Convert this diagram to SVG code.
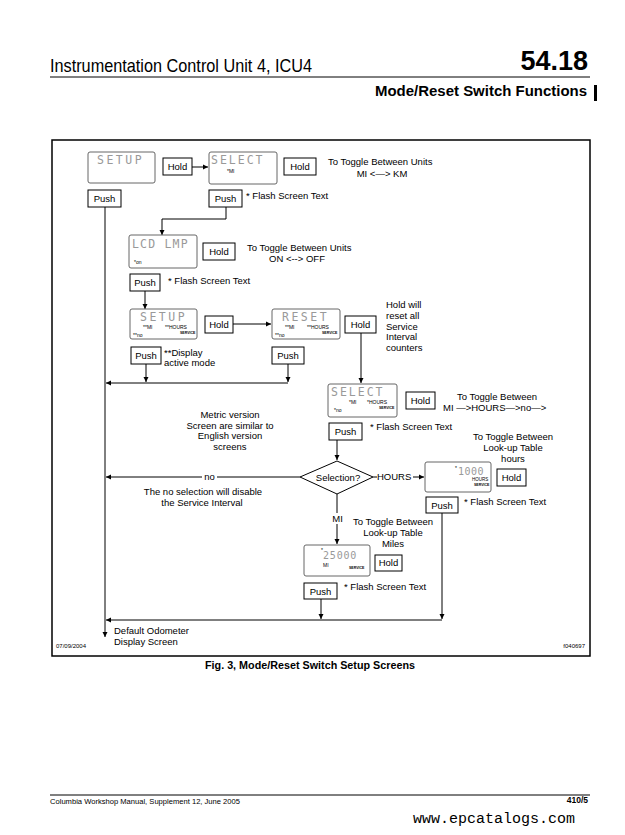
<svg xmlns="http://www.w3.org/2000/svg" width="625" height="835" viewBox="0 0 625 835">
<style>
.t{font-family:"Liberation Sans",Arial,sans-serif;font-size:9.5px;fill:#000}
.c{text-anchor:middle}
.b{font-weight:bold}
.box{fill:#fff;stroke:#000;stroke-width:1}
.lcd{fill:#fff;stroke:#666;stroke-width:1}
.seg{font-family:"DejaVu Sans Mono","Liberation Mono",monospace;font-size:11.5px;fill:#999;letter-spacing:2.5px}
.sm{font-family:"Liberation Sans",Arial,sans-serif;font-size:5px;fill:#000}
.xs{font-family:"Liberation Sans",Arial,sans-serif;font-size:3.5px;fill:#000;font-weight:bold}
.ln{fill:none;stroke:#000;stroke-width:1}
.ar{fill:none;stroke:#000;stroke-width:1;marker-end:url(#ah)}
</style>
<defs>
<marker id="ah" markerWidth="6" markerHeight="6" refX="5" refY="3" orient="auto" markerUnits="userSpaceOnUse">
<path d="M0,0.5 L5,3 L0,5.5 Z" fill="#000"/>
</marker>
</defs>
<rect width="625" height="835" fill="#fff"/>
<g id="header">
<text class="t" x="50" y="72" textLength="262" lengthAdjust="spacingAndGlyphs" style="font-size:19px">Instrumentation Control Unit 4, ICU4</text>
<text class="t b" x="588" y="70" text-anchor="end" style="font-size:27px">54.18</text>
<line x1="50" y1="77" x2="590" y2="77" stroke="#000" stroke-width="1"/>
<text class="t b" x="375" y="96" textLength="212" lengthAdjust="spacingAndGlyphs" style="font-size:14px">Mode/Reset Switch Functions</text>
<rect x="594" y="85" width="3" height="16" fill="#000"/>
</g>
<rect id="frame" x="52" y="140" width="538" height="516" fill="none" stroke="#000" stroke-width="1.5"/>
<g id="connectors">
<line class="ar" x1="192" y1="167" x2="208" y2="167"/>
<line class="ar" x1="105" y1="207" x2="105" y2="637"/>
<polyline class="ar" points="226,207 226,219 162,219 162,235"/>
<line class="ar" x1="145" y1="291" x2="145" y2="309"/>
<line class="ar" x1="233" y1="324" x2="271" y2="324"/>
<line class="ar" x1="146" y1="364" x2="146" y2="382"/>
<line class="ar" x1="288" y1="364" x2="288" y2="382"/>
<line class="ar" x1="288" y1="383" x2="106" y2="383"/>
<line class="ar" x1="361" y1="333" x2="361" y2="383"/>
<line class="ar" x1="337" y1="440" x2="337" y2="460"/>
<line class="ar" x1="300" y1="477" x2="106" y2="477"/>
<line class="ln" x1="373" y1="477" x2="377" y2="477"/>
<line class="ar" x1="413" y1="477" x2="424" y2="477"/>
<line class="ar" x1="337" y1="494" x2="337" y2="544"/>
<line class="ar" x1="442" y1="513" x2="442" y2="619"/>
<line class="ar" x1="321" y1="599" x2="321" y2="619"/>
<line class="ar" x1="442" y1="620" x2="106" y2="620"/>
</g>
<g id="setup1">
<rect class="lcd" x="88" y="152" width="67" height="31" rx="2"/>
<text class="seg" x="97" y="164">SETUP</text>
</g>
<g id="hold1"><rect class="box" x="163" y="158" width="29" height="17"/><text class="t c" x="177.5" y="170">Hold</text></g>
<g id="select1">
<rect class="lcd" x="209" y="152" width="68" height="32" rx="2"/>
<text class="seg" x="211" y="164" style="letter-spacing:2px">SELECT</text>
<text class="sm" x="227" y="173">*MI</text>
</g>
<g id="hold2"><rect class="box" x="284" y="158" width="32" height="17"/><text class="t c" x="300" y="170">Hold</text></g>
<g id="note1"><text class="t" x="328" y="165">To Toggle Between Units</text><text class="t c" x="382" y="177">MI &lt;—&gt; KM</text></g>
<g id="push1"><rect class="box" x="88" y="190" width="33" height="17"/><text class="t c" x="104.5" y="202">Push</text></g>
<g id="push2"><rect class="box" x="209" y="190" width="33" height="17"/><text class="t c" x="225.5" y="202">Push</text></g>
<text class="t" x="246" y="199">* Flash Screen Text</text>
<g id="lcdlmp">
<rect class="lcd" x="129" y="235" width="68" height="33" rx="2"/>
<text class="seg" x="132" y="248" style="letter-spacing:1.2px">LCD LMP</text>
<text class="sm" x="134" y="264">*on</text>
</g>
<g id="hold3"><rect class="box" x="203" y="243" width="32" height="17"/><text class="t c" x="219" y="255">Hold</text></g>
<g id="note2"><text class="t" x="247" y="251">To Toggle Between Units</text><text class="t c" x="297" y="262">ON &lt;--&gt; OFF</text></g>
<g id="push3"><rect class="box" x="130" y="274" width="30" height="17"/><text class="t c" x="145" y="286">Push</text></g>
<text class="t" x="168" y="284">* Flash Screen Text</text>
<g id="setup2">
<rect class="lcd" x="130" y="309" width="67" height="30" rx="2"/>
<text class="seg" x="140" y="321">SETUP</text>
<text class="sm" x="143" y="329">**MI</text>
<text class="sm" x="165" y="329">**HOURS</text>
<text class="xs" x="180" y="334">SERVICE</text>
<text class="sm" x="133" y="337">**no</text>
</g>
<g id="hold4"><rect class="box" x="205" y="316" width="28" height="17"/><text class="t c" x="219" y="328">Hold</text></g>
<g id="reset">
<rect class="lcd" x="272" y="309" width="68" height="30" rx="2"/>
<text class="seg" x="282" y="321">RESET</text>
<text class="sm" x="285" y="329">**MI</text>
<text class="sm" x="307" y="329">**HOURS</text>
<text class="xs" x="322" y="334">SERVICE</text>
<text class="sm" x="275" y="337">**no</text>
</g>
<g id="hold5"><rect class="box" x="345" y="316" width="31" height="17"/><text class="t c" x="360.5" y="328">Hold</text></g>
<g id="note3">
<text class="t" x="386" y="308">Hold will</text>
<text class="t" x="386" y="319">reset all</text>
<text class="t" x="386" y="330">Service</text>
<text class="t" x="386" y="340">Interval</text>
<text class="t" x="386" y="351">counters</text>
</g>
<g id="push4"><rect class="box" x="131" y="347" width="30" height="17"/><text class="t c" x="146" y="359">Push</text></g>
<text class="t" x="164" y="356">**Display</text>
<text class="t" x="164" y="366">active mode</text>
<g id="push5"><rect class="box" x="272" y="347" width="32" height="17"/><text class="t c" x="288" y="359">Push</text></g>
<g id="select2">
<rect class="lcd" x="328" y="384" width="69" height="33" rx="2"/>
<text class="seg" x="331" y="396" style="letter-spacing:2px">SELECT</text>
<text class="sm" x="349" y="404">*MI</text>
<text class="sm" x="367" y="404">*HOURS</text>
<text class="xs" x="379" y="409">SERVICE</text>
<text class="sm" x="334" y="412">*no</text>
</g>
<g id="hold6"><rect class="box" x="406" y="392" width="29" height="17"/><text class="t c" x="420.5" y="404">Hold</text></g>
<g id="note4"><text class="t c" x="497" y="400">To Toggle Between</text><text class="t" x="443" y="411">MI —&gt;HOURS—&gt;no—&gt;</text></g>
<g id="push6"><rect class="box" x="329" y="423" width="33" height="17"/><text class="t c" x="345.5" y="435">Push</text></g>
<text class="t" x="370" y="430">* Flash Screen Text</text>
<g id="metric">
<text class="t c" x="230" y="418">Metric version</text>
<text class="t c" x="230" y="429">Screen are similar to</text>
<text class="t c" x="230" y="439">English version</text>
<text class="t c" x="230" y="450">screens</text>
</g>
<g id="selection">
<polygon points="300,477 337,461 373,477 337,494" fill="#fff" stroke="#000" stroke-width="1"/>
<text class="t c" x="338" y="481">Selection?</text>
</g>
<rect x="202" y="471" width="15" height="11" fill="#fff"/>
<text class="t c" x="209.5" y="480">no</text>
<text class="t" x="377" y="480">HOURS</text>
<g id="nonote"><text class="t c" x="203" y="495">The no selection will disable</text><text class="t c" x="202" y="506">the Service Interval</text></g>
<g id="hoursnote"><text class="t c" x="513" y="440">To Toggle Between</text><text class="t c" x="513" y="451">Look-up Table</text><text class="t c" x="513" y="462">hours</text></g>
<g id="hours">
<rect class="lcd" x="425" y="462" width="66" height="30" rx="2"/>
<text class="sm" x="455" y="470">*</text>
<text class="seg" x="458" y="475" style="font-size:10px;letter-spacing:0.5px">1000</text>
<text class="sm" x="472" y="481" style="font-size:4.5px">HOURS</text>
<text class="xs" x="474" y="486">SERVICE</text>
</g>
<g id="hold7"><rect class="box" x="497" y="469" width="29" height="17"/><text class="t c" x="511.5" y="481">Hold</text></g>
<g id="push7"><rect class="box" x="426" y="497" width="32" height="16"/><text class="t c" x="442" y="509">Push</text></g>
<text class="t" x="464" y="505">* Flash Screen Text</text>
<rect x="331" y="513" width="13" height="11" fill="#fff"/>
<text class="t c" x="337.5" y="522">MI</text>
<g id="milesnote"><text class="t c" x="393" y="525">To Toggle Between</text><text class="t c" x="393" y="536">Look-up Table</text><text class="t c" x="393" y="547">Miles</text></g>
<g id="miles">
<rect class="lcd" x="304" y="545" width="66" height="31" rx="2"/>
<text class="sm" x="321" y="552">*</text>
<text class="seg" x="323" y="559" style="font-size:10px;letter-spacing:0.8px">25000</text>
<text class="sm" x="323" y="567">MI</text>
<text class="xs" x="349" y="569">SERVICE</text>
</g>
<g id="hold8"><rect class="box" x="375" y="555" width="27" height="16"/><text class="t c" x="388.5" y="566">Hold</text></g>
<g id="push8"><rect class="box" x="304" y="583" width="33" height="16"/><text class="t c" x="320.5" y="595">Push</text></g>
<text class="t" x="344" y="590">* Flash Screen Text</text>
<g id="default"><text class="t" x="114" y="634">Default Odometer</text><text class="t" x="114" y="645">Display Screen</text></g>
<text class="t" x="56" y="648" style="font-size:6px">07/09/2004</text>
<text class="t" x="585" y="648" text-anchor="end" style="font-size:6px">f040697</text>
<text class="t b" x="205" y="669" textLength="210" lengthAdjust="spacingAndGlyphs" style="font-size:10px">Fig. 3, Mode/Reset Switch Setup Screens</text>
<g id="footer">
<line x1="50" y1="795" x2="590" y2="795" stroke="#000" stroke-width="1"/>
<text class="t" x="50" y="804" textLength="190" lengthAdjust="spacingAndGlyphs" style="font-size:7px">Columbia Workshop Manual, Supplement 12, June 2005</text>
<text class="t b" x="588" y="803" text-anchor="end" style="font-size:8.5px">410/5</text>
<text x="413" y="823" textLength="162" lengthAdjust="spacingAndGlyphs" font-family="'Liberation Mono','DejaVu Sans Mono',monospace" font-size="14" fill="#000">www.epcatalogs.com</text>
</g>
</svg>
